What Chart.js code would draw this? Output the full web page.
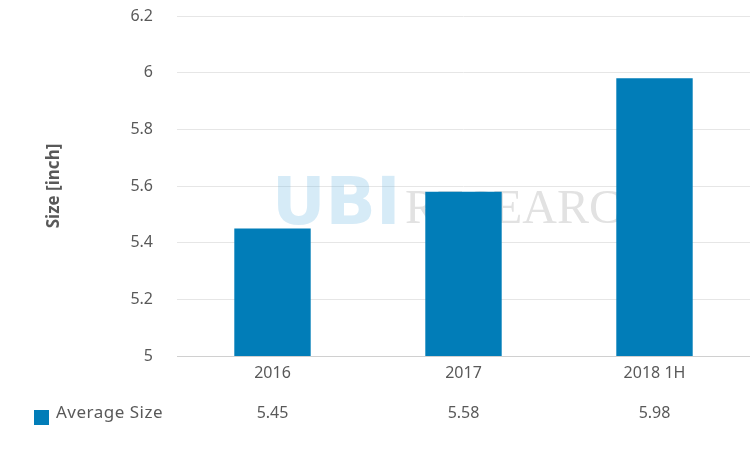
<!DOCTYPE html>
<html>
<head>
<meta charset="utf-8">
<script src="https://cdn.jsdelivr.net/npm/chart.js@4"></script>
<style>
    html, body { margin: 0; padding: 0; background: #fff; }
    #wrap { width: 750px; height: 450px; }
</style>
</head>
<body>
<div id="wrap"><canvas id="sizeChart" width="750" height="450"></canvas></div>
<script>
// ---------------------------
// Data
// ---------------------------
const categories = ['2016', '2017', '2018 1H'];
const averageSize = [5.45, 5.58, 5.98];
const seriesName = 'Average Size';
const yTicks = [5, 5.2, 5.4, 5.6, 5.8, 6, 6.2];

const barColor = '#017DB8';
const textColor = '#595959';
const fontFamily = '"Noto Sans", "Open Sans", sans-serif';

// ---------------------------
// Watermark behind bars
// ---------------------------
const watermark = {
    id: 'watermark',
    beforeDatasetsDraw(chart) {
        const ctx = chart.ctx;
        ctx.save();
        ctx.textBaseline = 'alphabetic';
        ctx.font = 'bold 66px "DejaVu Sans", sans-serif';
        ctx.fillStyle = 'rgba(120, 190, 228, 0.3)';
        ctx.fillText('UBI', 272, 224);
        ctx.font = '48px "Liberation Serif", serif';
        ctx.fillStyle = 'rgba(190, 190, 190, 0.45)';
        ctx.fillText('RESEARCH', 405, 223);
        ctx.restore();
    }
};

// ---------------------------
// Data table under x axis
// ---------------------------
const dataTable = {
    id: 'dataTable',
    afterDraw(chart) {
        const ctx = chart.ctx;
        const x = chart.scales.x;
        const rowY = 413;
        ctx.save();
        ctx.font = '16px ' + fontFamily;
        ctx.fillStyle = textColor;
        ctx.textBaseline = 'middle';
        ctx.textAlign = 'center';
        averageSize.forEach((v, i) => {
            ctx.fillText(v.toFixed(2), x.getPixelForValue(i), rowY);
        });
        ctx.fillStyle = barColor;
        ctx.fillRect(34, rowY - 3, 15, 15);
        ctx.fillStyle = textColor;
        ctx.textAlign = 'left';
        ctx.font = '17px ' + fontFamily;
        if (ctx.letterSpacing !== undefined) ctx.letterSpacing = '0.5px';
        ctx.fillText(seriesName, 56, rowY);
        ctx.restore();
    }
};

new Chart(document.getElementById('sizeChart').getContext('2d'), {
    type: 'bar',
    data: {
        labels: categories,
        datasets: [{
            label: seriesName,
            data: averageSize,
            backgroundColor: barColor,
            borderWidth: 0,
            categoryPercentage: 0.8,
            barPercentage: 0.5
        }]
    },
    options: {
        responsive: false,
        animation: false,
        layout: { padding: 0 },
        plugins: {
            legend: { display: false },
            tooltip: { enabled: false }
        },
        scales: {
            x: {
                grid: { display: false },
                border: { color: '#d0d0d0', width: 1 },
                ticks: { color: textColor, font: { family: fontFamily, size: 16 }, padding: 0 },
                afterFit: s => { s.height = 94; }
            },
            y: {
                min: 5,
                max: 6.2,
                afterBuildTicks: s => { s.ticks = yTicks.map(v => ({ value: v })); },
                grid: { color: '#e6e6e6', lineWidth: 1, drawTicks: false },
                border: { display: false },
                ticks: {
                    color: textColor,
                    font: { family: fontFamily, size: 16 },
                    padding: 24,
                    callback: v => String(+Number(v).toFixed(1))
                },
                title: {
                    display: true,
                    text: 'Size [inch]',
                    color: textColor,
                    font: { family: fontFamily, size: 17, weight: 'bold' },
                    padding: { top: 44, bottom: 0 }
                },
                afterFit: s => {
                    s.width = 177;
                    s.paddingTop = 16;
                    s.paddingBottom = 0;
                }
            }
        }
    },
    plugins: [watermark, dataTable]
});
</script>
</body>
</html>
